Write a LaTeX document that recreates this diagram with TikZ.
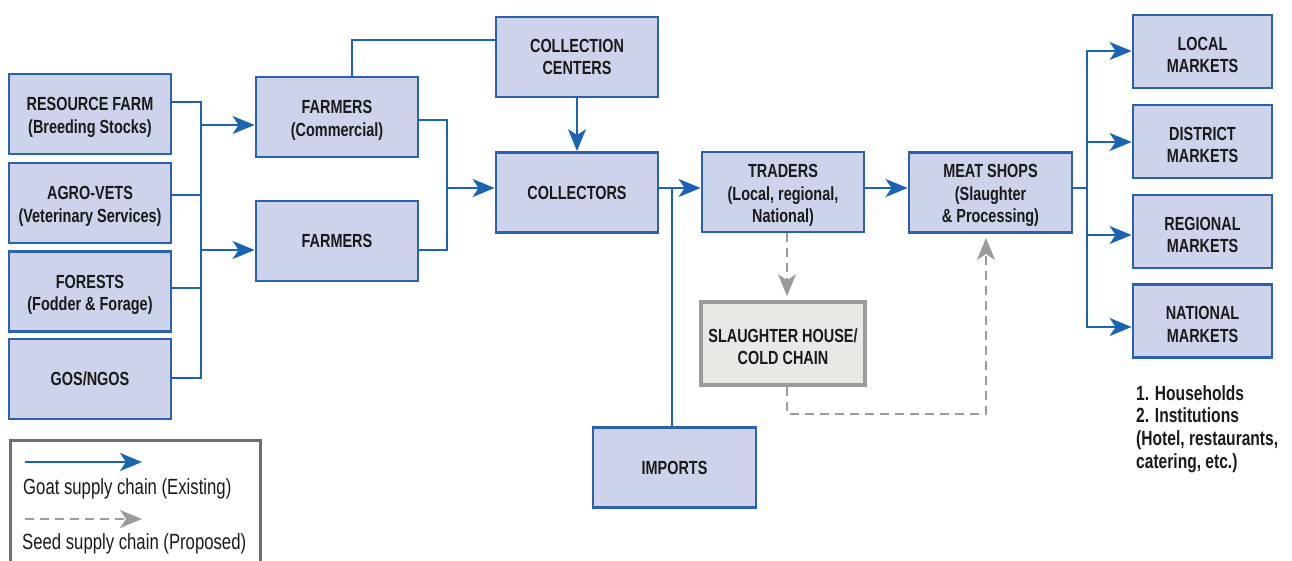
\documentclass[tikz,border=0pt]{standalone}
\usepackage{fontspec}
\setmainfont{Liberation Sans}[FakeStretch=0.76]
\usetikzlibrary{arrows.meta,calc}

\definecolor{boxfill}{HTML}{CCD3EA}
\definecolor{boxline}{HTML}{2A62AD}
\definecolor{flow}{HTML}{1B63B3}
\definecolor{propgray}{HTML}{9B9B9D}
\definecolor{housefill}{HTML}{E8E8E5}
\definecolor{legendline}{HTML}{6E6E6E}
\definecolor{ink}{HTML}{1A1A1A}

% taller first line, so that multi-line labels sit a little lower in their boxes
\newcommand\topstrut{\rule{0pt}{20pt}}

\tikzset{
  stagebox/.style={draw=boxline, fill=boxfill, line width=2.8pt, inner sep=2pt,
    minimum width=162pt, minimum height=80pt, align=center, text=ink,
    font=\bfseries\fontsize{19}{22.5}\selectfont},
  marketbox/.style={stagebox, minimum width=139pt, minimum height=73pt},
  proposedbox/.style={stagebox, draw=propgray, fill=housefill, line width=3.6pt,
    minimum width=164pt, minimum height=83pt},
  conn/.style={draw=flow, line width=2.4pt, line cap=rect},
  arr/.style={conn, line cap=butt, -{Stealth[length=22pt,width=18pt,inset=6pt]}},
  dline/.style={draw=propgray, line width=2.4pt, dash pattern=on 9pt off 6pt},
  darr/.style={dline, -{Stealth[length=22pt,width=18pt,inset=6pt]}, shorten >=4pt},
  legendtext/.style={anchor=west, inner sep=0pt, text=ink, font=\fontsize{22}{26}\selectfont},
}

\begin{document}
\begin{tikzpicture}[x=1pt,y=-1pt]
\useasboundingbox (0,0) rectangle (1292,561);
\clip (0,0) rectangle (1292,561);

% sources
\node[stagebox] (rf) at (90,114)   {\topstrut RESOURCE FARM\\(Breeding Stocks)};
\node[stagebox] (av) at (90,203)   {\topstrut AGRO-VETS\\(Veterinary Services)};
\node[stagebox] (fo) at (90,291.5) {\topstrut FORESTS\\(Fodder \& Forage)};
\node[stagebox] (go) at (90,379)   {GOS/NGOS};

% producers
\node[stagebox] (fc) at (337,117) {\topstrut FARMERS\\(Commercial)};
\node[stagebox] (fa) at (337,241) {FARMERS};

% aggregation
\node[stagebox] (cc) at (577,57)    {COLLECTION\\CENTERS};
\node[stagebox] (co) at (577,192.5) {COLLECTORS};
\node[stagebox, minimum width=163pt] (im) at (674.5,467.5) {IMPORTS};

% trade and processing
\node[stagebox] (tr) at (783,192) {\topstrut TRADERS\\(Local, regional,\\National)};
\node[stagebox, minimum width=163pt] (ms) at (990.5,192.5) {\topstrut MEAT SHOPS\\(Slaughter\\\& Processing)};
\node[proposedbox] (sh) at (783,343.5) {\topstrut SLAUGHTER HOUSE/\\COLD CHAIN};

% markets
\node[marketbox] (lm) at (1202.5,51.5)  {\topstrut LOCAL\\MARKETS};
\node[marketbox] (dm) at (1202.5,141.5) {\topstrut DISTRICT\\MARKETS};
\node[marketbox] (rm) at (1202.5,231.5) {\topstrut REGIONAL\\MARKETS};
\node[marketbox] (nm) at (1202.5,321)   {\topstrut NATIONAL\\MARKETS};

\node[anchor=north west, align=left, inner sep=0pt, text=ink,
      font=\bfseries\fontsize{20.5}{22.7}\selectfont] (notes) at (1136,385)
  {1. Households\\2. Institutions\\(Hotel, restaurants,\\catering, etc.)};

% sources -> farmers
\coordinate (lb1) at (201,102);
\coordinate (lb2) at (201,195);
\coordinate (lb3) at (201,288);
\coordinate (lb4) at (201,378);
\coordinate (la1) at (201,125);
\coordinate (la2) at (201,250);
\draw[conn] (rf.east |- lb1) -- (lb1) -- (lb4) -- (go.east |- lb4);
\draw[conn] (av.east |- lb2) -- (lb2);
\draw[conn] (fo.east |- lb3) -- (lb3);
\draw[arr] (la1) -- (fc.west |- la1);
\draw[arr] (la2) -- (fa.west |- la2);

% farmers -> collectors
\coordinate (mb1) at (447,120);
\coordinate (mb2) at (447,250);
\coordinate (mb3) at (447,188);
\draw[conn] (fc.east |- mb1) -- (mb1) -- (mb2) -- (fa.east |- mb2);
\draw[arr] (mb3) -- (co.west |- mb3);

% farmers -> collection centers -> collectors
\coordinate (tp) at (352,40);
\draw[conn] (fc.north -| tp) -- (tp) -- (cc.west |- tp);
\draw[arr] (cc.south) -- (co.north);

% collectors and imports -> traders
\coordinate (cj) at (672,188);
\draw[conn] (co.east |- cj) -- (cj);
\draw[conn] (im.north -| cj) -- (cj);
\draw[arr] (cj) -- (tr.west |- cj);

% traders -> meat shops
\coordinate (tm) at (0,188);
\draw[arr] (tr.east |- tm) -- (ms.west |- tm);

% meat shops -> markets
\coordinate (rb0) at (1087,188);
\coordinate (rb1) at (1087,51);
\coordinate (rb2) at (1087,142);
\coordinate (rb3) at (1087,235);
\coordinate (rb4) at (1087,327);
\draw[conn] (ms.east |- rb0) -- (rb0);
\draw[conn] (rb1) -- (rb4);
\draw[arr] (rb1) -- (lm.west |- rb1);
\draw[arr] (rb2) -- (dm.west |- rb2);
\draw[arr] (rb3) -- (rm.west |- rb3);
\draw[arr] (rb4) -- (nm.west |- rb4);

% proposed chain
\coordinate (d1) at (787,414);
\coordinate (d2) at (986,414);
\draw[darr] (tr.south -| d1) -- (sh.north -| d1);
\draw[darr] (sh.south -| d1) -- (d1) -- (d2) -- (ms.south -| d2);

% legend
\draw[draw=legendline, line width=3pt] (10,600) -- (10,440) -- (260,440) -- (260,600);
\coordinate (lga) at (25,462);
\coordinate (lgb) at (142,462);
\coordinate (lgc) at (25,519);
\coordinate (lgd) at (142,519);
\draw[arr] (lga) -- (lgb);
\draw[dline, -{Stealth[length=22pt,width=18pt,inset=6pt]}] (lgc) -- (lgd);
\node[legendtext] (lt1) at (23,489) {Goat supply chain (Existing)};
\node[legendtext] (lt2) at (22,544) {Seed supply chain (Proposed)};
\end{tikzpicture}
\end{document}
